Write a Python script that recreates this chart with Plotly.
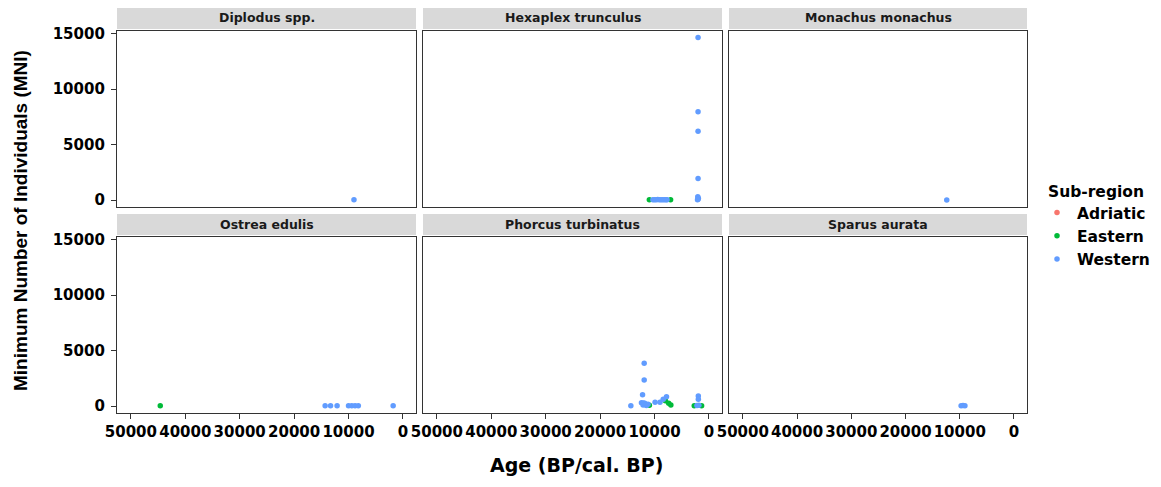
import plotly.graph_objects as go

# facet order: row 1 then row 2
species = ['Diplodus spp.', 'Hexaplex trunculus', 'Monachus monachus',
           'Ostrea edulis', 'Phorcus turbinatus', 'Sparus aurata']
regions = ['Adriatic', 'Eastern', 'Western']
region_colors = {'Adriatic': '#F8766D', 'Eastern': '#00BA38', 'Western': '#619CFF'}

# age (BP) and MNI per species / sub-region
diplodus_western_age = [9000]
diplodus_western_mni = [30]

hexaplex_eastern_age = [10950, 7050]
hexaplex_eastern_mni = [20, 30]
hexaplex_western_age = [10300, 10000, 9700, 9400, 9100, 8800, 8500, 8200, 7900, 7700,
                        2000, 2000, 2000, 2000, 2050, 1950, 2000, 2100]
hexaplex_western_mni = [20, 30, 20, 40, 20, 30, 20, 30, 20, 30,
                        14650, 7950, 6200, 1950, 300, 150, 60, 20]

monachus_western_age = [12400]
monachus_western_mni = [10]

ostrea_eastern_age = [44600]
ostrea_eastern_mni = [20]
ostrea_western_age = [14300, 13300, 12100, 10000, 9400, 8800, 8200, 1800]
ostrea_western_mni = [20, 30, 20, 30, 20, 30, 20, 30]

phorcus_eastern_age = [10950, 8000, 7400, 7000, 2700, 1350]
phorcus_eastern_mni = [60, 480, 250, 90, 30, 30]
phorcus_western_age = [11900, 11900, 12200, 14350, 12400, 12100, 11800, 11500, 11200,
                       12050, 9900, 9000, 8400, 7800, 1950, 1950, 1850, 2200]
phorcus_western_mni = [3850, 2350, 1020, 20, 300, 100, 250, 50, 150,
                       270, 330, 350, 600, 840, 900, 600, 60, 50]

sparus_western_age = [9750, 9400, 9050]
sparus_western_mni = [30, 40, 20]

data = {
    'Diplodus spp.': {'Western': (diplodus_western_age, diplodus_western_mni)},
    'Hexaplex trunculus': {'Eastern': (hexaplex_eastern_age, hexaplex_eastern_mni),
                           'Western': (hexaplex_western_age, hexaplex_western_mni)},
    'Monachus monachus': {'Western': (monachus_western_age, monachus_western_mni)},
    'Ostrea edulis': {'Eastern': (ostrea_eastern_age, ostrea_eastern_mni),
                      'Western': (ostrea_western_age, ostrea_western_mni)},
    'Phorcus turbinatus': {'Eastern': (phorcus_eastern_age, phorcus_eastern_mni),
                           'Western': (phorcus_western_age, phorcus_western_mni)},
    'Sparus aurata': {'Western': (sparus_western_age, sparus_western_mni)},
}

x_tickvals = [0, 10000, 20000, 30000, 40000, 50000]
x_ticktext = ['0', '10000', '20000', '30000', '40000', '50000']
y_tickvals = [0, 5000, 10000, 15000]
y_ticktext = ['0', '5000', '10000', '15000']

# page body has an 8px margin, so the figure is drawn 8px in from the window edge
PAGE_W, PAGE_H, OFF = 1161, 487, 8
W, H = PAGE_W - 2 * OFF, PAGE_H - 2 * OFF


def px_x(p):
    return (p - OFF) / W


def px_y(p):
    return 1 - (p - OFF) / H


col_px = [(117, 416), (423, 722), (729, 1027)]
row_px = [(31, 207), (237, 413)]
strip_px = [(7, 29), (214, 235)]

BOLD = 'DejaVu Sans'
fig = go.Figure()

for i, sp in enumerate(species):
    n = i + 1
    r, c = divmod(i, 3)
    for reg in regions:
        if reg in data[sp]:
            ages, mni = data[sp][reg]
        else:
            ages, mni = [None], [None]
        fig.add_trace(go.Scatter(
            x=ages, y=mni, mode='markers', name=reg,
            marker=dict(color=region_colors[reg], size=5.5),
            xaxis=f'x{n}', yaxis=f'y{n}',
            legendgroup=reg, showlegend=(i == 0),
        ))

    x0, x1 = col_px[c]
    y0, y1 = row_px[r]
    axis_common = dict(showline=True, mirror=True, linecolor='#333333', linewidth=1.3,
                       showgrid=False, zeroline=False, tickcolor='#333333', ticklen=5,
                       automargin=False,
                       tickfont=dict(family=BOLD, size=15, color='black', weight='bold'))
    fig.layout[f'xaxis{n if n > 1 else ""}'] = dict(
        axis_common, domain=[px_x(x0), px_x(x1)], range=[52550, -2400], anchor=f'y{n}',
        tickvals=x_tickvals, ticktext=x_ticktext, tickangle=0,
        ticks='outside' if r == 1 else '', showticklabels=(r == 1))
    fig.layout[f'yaxis{n if n > 1 else ""}'] = dict(
        axis_common, domain=[px_y(y1), px_y(y0)], range=[-630, 15240], anchor=f'x{n}',
        tickvals=y_tickvals, ticktext=y_ticktext, ticklabelstandoff=3,
        ticks='outside' if c == 0 else '', showticklabels=(c == 0))

    s0, s1 = strip_px[r]
    fig.add_shape(type='rect', xref='paper', yref='paper',
                  x0=px_x(x0), x1=px_x(x1), y0=px_y(s1), y1=px_y(s0),
                  fillcolor='#D9D9D9', line=dict(width=0), layer='below')
    fig.add_annotation(text=sp, xref='paper', yref='paper', showarrow=False,
                       x=px_x((x0 + x1) / 2), y=px_y((s0 + s1) / 2),
                       xanchor='center', yanchor='middle',
                       font=dict(family=BOLD, size=12.5, color='#1a1a1a', weight='bold'))

fig.add_annotation(text='Age (BP/cal. BP)', xref='paper', yref='paper', showarrow=False,
                   x=px_x(576), y=px_y(465), xanchor='center', yanchor='middle',
                   font=dict(family=BOLD, size=19, color='black', weight='bold'))
fig.add_annotation(text='Minimum Number of Individuals (MNI)', xref='paper', yref='paper',
                   showarrow=False, textangle=-90, x=px_x(20), y=px_y(221),
                   xanchor='center', yanchor='middle',
                   font=dict(family='Liberation Sans', size=19, color='black', weight='bold'))
fig.add_annotation(text='Sub-region', xref='paper', yref='paper', showarrow=False,
                   x=px_x(1046), y=px_y(192), xanchor='left', yanchor='middle',
                   font=dict(family=BOLD, size=15.5, color='black', weight='bold'))

fig.update_layout(
    width=W, height=H,
    margin=dict(l=0, r=0, t=0, b=0, autoexpand=False),
    paper_bgcolor='white', plot_bgcolor='white',
    legend=dict(x=px_x(1037), y=px_y(196), xanchor='left', yanchor='top',
                font=dict(family=BOLD, size=15.5, color='black', weight='bold'),
                itemwidth=30, tracegroupgap=0, bgcolor='rgba(0,0,0,0)'),
)

fig.write_html('out.html')
